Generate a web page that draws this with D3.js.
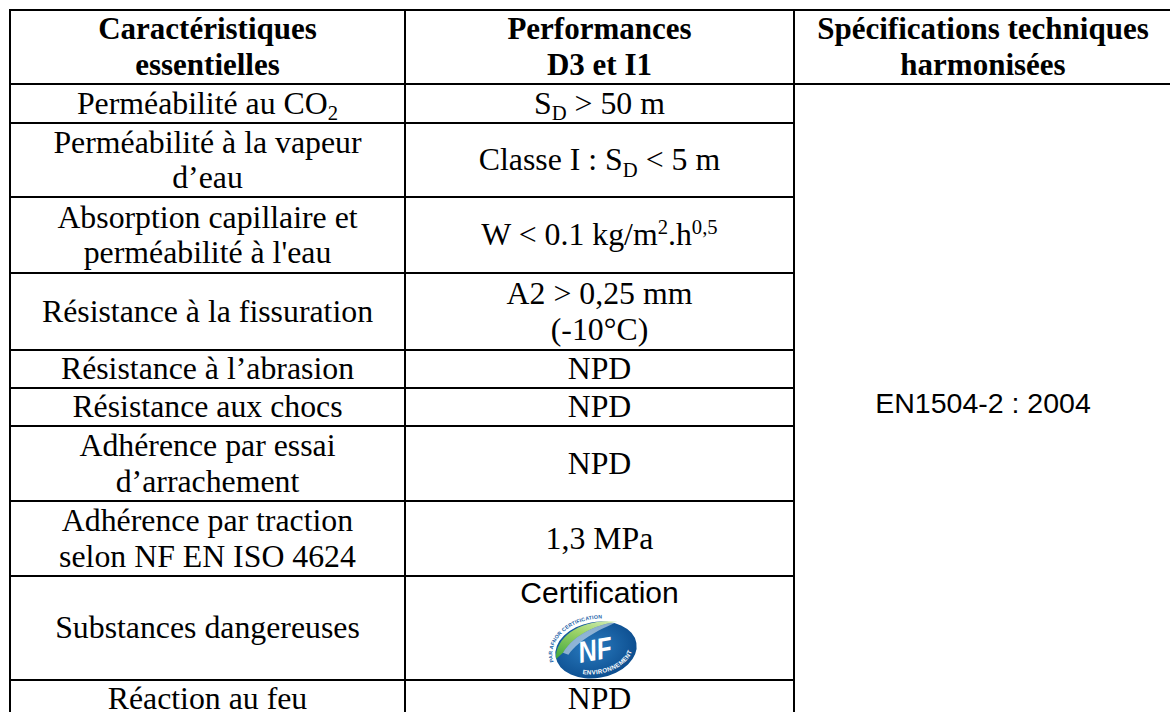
<!DOCTYPE html>
<html><head><meta charset="utf-8">
<script src="https://cdn.jsdelivr.net/npm/d3@7"></script>
<style>html,body{margin:0;padding:0;background:#fff;} svg{display:block;}</style>
</head><body>
<svg id="c" width="1170" height="712"></svg>
<script>
// ---------- DATA ----------
const headers = [
  ["Caractéristiques", "essentielles"],
  ["Performances", "D3 et I1"],
  ["Spécifications techniques", "harmonisées"]
];
const characteristics = [
  ["Perméabilité au CO_{2}"],
  ["Perméabilité à la vapeur", "d’eau"],
  ["Absorption capillaire et", "perméabilité à l'eau"],
  ["Résistance à la fissuration"],
  ["Résistance à l’abrasion"],
  ["Résistance aux chocs"],
  ["Adhérence par essai", "d’arrachement"],
  ["Adhérence par traction", "selon NF EN ISO 4624"],
  ["Substances dangereuses"],
  ["Réaction au feu"]
];
const performances = [
  ["S_{D} > 50 m"],
  ["Classe I : S_{D} < 5 m"],
  ["W < 0.1 kg/m^{2}.h^{0,5}"],
  ["A2 > 0,25 mm", "(-10°C)"],
  ["NPD"],
  ["NPD"],
  ["NPD"],
  ["1,3 MPa"],
  ["Certification"],
  ["NPD"]
];
const specification = "EN1504-2 : 2004";
const logoTopText = "PAR AFNOR CERTIFICATION";
const logoBottomText = "ENVIRONNEMENT";
const logoMark = "NF";

// ---------- LAYOUT ----------
const colEdges = [10, 405, 794, 1172];
const headerHeight = 74;
const rowHeights = [39, 74, 76, 77, 38, 38, 75, 75, 104, 37];
const top0 = 10;
const rowEdges = [top0, top0 + headerHeight];
rowHeights.forEach(h => rowEdges.push(rowEdges[rowEdges.length - 1] + h));
const fsBold = 31, fsReg = 31.8, lh = 35.5;
const serif = "'Liberation Serif','Times New Roman',serif";
const sans = "'Liberation Sans',Arial,sans-serif";
const logoRow = performances.findIndex(d => d[0] === "Certification");

const svg = d3.select("#c");
const x = d3.scaleOrdinal().domain([0, 1, 2]).range([0, 1, 2].map(i => (colEdges[i] + colEdges[i + 1]) / 2));

function rich(textSel, str, size) {
  const parts = str.match(/(_\{[^}]*\}|\^\{[^}]*\}|[^_^]+)/g);
  let shift = 0;
  parts.forEach(p => {
    let s = 0, t = p, small = false;
    if (p.startsWith("_{")) { s = 0.2 * size; t = p.slice(2, -1); small = true; }
    else if (p.startsWith("^{")) { s = -0.36 * size; t = p.slice(2, -1); small = true; }
    const ts = textSel.append("tspan").attr("dy", s - shift).text(t);
    if (small) ts.attr("font-size", 0.65 * size);
    shift = s;
  });
}

function cellText(g, lines, col, y0, y1, opts) {
  const size = opts.size || (opts.bold ? fsBold : fsReg), n = lines.length;
  const cy = opts.cy !== undefined ? opts.cy : (y0 + y1) / 2;
  lines.forEach((ln, i) => {
    const t = g.append("text")
      .attr("x", x(col))
      .attr("y", cy + (i - (n - 1) / 2) * lh + 0.33 * size)
      .attr("text-anchor", "middle")
      .attr("font-family", opts.family || serif)
      .attr("font-weight", opts.bold ? "bold" : "normal")
      .attr("font-size", size)
      .attr("fill", "#000");
    rich(t, ln, size);
  });
}

const gText = svg.append("g");
headers.forEach((h, c) => cellText(gText, h, c, rowEdges[0], rowEdges[1], { bold: true }));
characteristics.forEach((r, i) => cellText(gText, r, 0, rowEdges[i + 1], rowEdges[i + 2], {}));
performances.forEach((r, i) => {
  if (i === logoRow) {
    cellText(gText, r, 1, 0, 0, { family: sans, size: 30, cy: rowEdges[i + 1] + 17 });
  } else {
    cellText(gText, r, 1, rowEdges[i + 1], rowEdges[i + 2], {});
  }
});
cellText(gText, [specification], 2, rowEdges[1], rowEdges[rowEdges.length - 1], { family: sans, size: 28.5, cy: 404 });

// ---------- GRID ----------
const hLines = rowEdges.map((y, i) => ({
  y, x1: colEdges[0],
  x2: (i <= 1 || i === rowEdges.length - 1) ? colEdges[3] : colEdges[2]
}));
svg.append("g").selectAll("line").data(hLines).join("line")
  .attr("x1", d => d.x1 - 1).attr("x2", d => d.x2 + 1)
  .attr("y1", d => d.y).attr("y2", d => d.y)
  .attr("stroke", "#000").attr("stroke-width", 2);
svg.append("g").selectAll("line").data(colEdges).join("line")
  .attr("x1", d => d).attr("x2", d => d)
  .attr("y1", rowEdges[0] - 1).attr("y2", rowEdges[rowEdges.length - 1])
  .attr("stroke", "#000").attr("stroke-width", 2);

// ---------- NF LOGO ----------
const lcx = x(1) - 3.5, lcy = rowEdges[logoRow + 1] + 74;
svg.append("rect").attr("x", lcx - 41).attr("y", rowEdges[logoRow + 2] - 3.5)
  .attr("width", 88).attr("height", 2.5).attr("fill", "#fff");
const defs = svg.append("defs");
const rg = defs.append("radialGradient").attr("id", "blueG").attr("cx", "45%").attr("cy", "45%").attr("r", "60%");
rg.append("stop").attr("offset", "0%").attr("stop-color", "#2a7cc0");
rg.append("stop").attr("offset", "100%").attr("stop-color", "#0b4b8c");
const gg = defs.append("linearGradient").attr("id", "greenG").attr("x1", "0%").attr("y1", "100%").attr("x2", "100%").attr("y2", "0%");
gg.append("stop").attr("offset", "0%").attr("stop-color", "#3ea63a");
gg.append("stop").attr("offset", "60%").attr("stop-color", "#9fd46a");
gg.append("stop").attr("offset", "100%").attr("stop-color", "#d8efc0");

// arcs lying on ellipses centred on the logo
function ellArc(rx, ry, t0, t1, sweep) {
  const r = d => d * Math.PI / 180;
  const p0 = [rx * Math.cos(r(t0)), ry * Math.sin(r(t0))];
  const p1 = [rx * Math.cos(r(t1)), ry * Math.sin(r(t1))];
  return `M ${p0[0]},${p0[1]} A ${rx} ${ry} 0 0 ${sweep} ${p1[0]},${p1[1]}`;
}
defs.append("path").attr("id", "arcTop").attr("d", ellArc(44, 31, 172, 318, 1));
defs.append("path").attr("id", "arcBot").attr("d", ellArc(37, 24, 118, -28, 0));

const logo = svg.append("g").attr("transform", `translate(${lcx},${lcy}) rotate(-10)`);
logo.append("ellipse").attr("rx", 41).attr("ry", 28).attr("fill", "url(#blueG)");
logo.append("path")
  .attr("d", "M -41,2 C -38,-22 -5,-34 26,-24 C 8,-25 -18,-20 -33,-3 Z")
  .attr("fill", "url(#greenG)");
logo.append("path")
  .attr("d", "M -33,-3 C -18,-20 8,-25 26,-24 C 10,-20 -14,-14 -28,0 Z")
  .attr("fill", "#ffffff").attr("opacity", 0.5);
logo.append("text")
  .attr("font-family", sans).attr("font-weight", "bold").attr("font-size", 5.2)
  .attr("fill", "#1a5fa8").attr("letter-spacing", 0.15)
  .append("textPath").attr("href", "#arcTop").text(logoTopText);
logo.append("text")
  .attr("font-family", sans).attr("font-weight", "bold").attr("font-size", 6.2)
  .attr("fill", "#fff").attr("letter-spacing", 0.3)
  .append("textPath").attr("href", "#arcBot").text(logoBottomText);
logo.append("text")
  .attr("x", -1).attr("y", 10)
  .attr("text-anchor", "middle")
  .attr("font-family", sans).attr("font-weight", "bold").attr("font-style", "italic")
  .attr("font-size", 30).attr("fill", "#fff")
  .attr("textLength", 34).attr("lengthAdjust", "spacingAndGlyphs")
  .text(logoMark);
</script>
</body></html>
